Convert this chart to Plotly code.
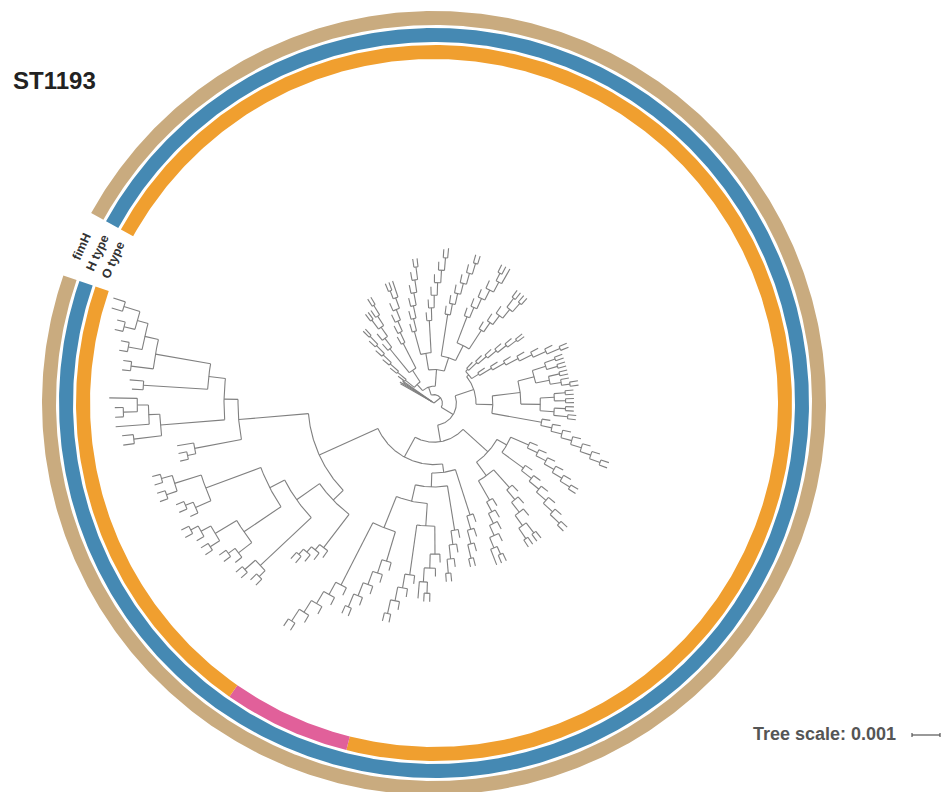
import math
import plotly.graph_objects as go

# ---------------------------------------------------------------------------
# Tree topology (Newick, branch lengths in units of 1e-4 substitutions/site).
# Leaves named "o2" carry the alternative O type; all others the main one.
# ---------------------------------------------------------------------------
CLADE_A = "((:13,:13.5):0.3,(:12.5,:13):0.3)"

UPPER_F1 = "(:3,(:3,(:3,(:3,(:3,(:3,:3):4):4):4):4):4)"
UPPER_F2 = "(:3,(:3,((:3,:3):4,(:3,(:3,:3):4):4):4):4)"
UPPER_F3 = "(:3,(:3,(:3,(:3,((:3,:3):3,:6):4):4):4):4)"
UPPER_F4 = "(:3,(:3,(:3,(:3,(:3,(:3,:3):4.5):4.5):4.5):4.5):4.5)"
UPPER_F5 = "(:3,(:3,(:3,(:3,(:3,(:3,:3.5):4.5):4.5):4.5):4.5):4.5)"
UPPER_F6 = "(:3,(:3,(:3,(:3,(:3,(:3,:3):4):4):4):4):4)"
UPPER_F7 = "(:3,(:3,(:3,(:3,((:3,:3):3,:6):4):4):4):4)"
UPPER_F8 = "(:3,(:3,(:3,((:3,:3):4,(:3,:3):4):4):4):4)"
CLADE_UPPER = (f"(({UPPER_F1}:4,({UPPER_F2}:11,{UPPER_F3}:10):5):3,"
               f"(({UPPER_F4}:8.5,{UPPER_F5}:11.5):6,({UPPER_F6}:15,"
               f"({UPPER_F7}:10,{UPPER_F8}:8):6):5):6)")

RIGHT_R1A = "(:3,(:3,(:3,(:3,(:3,(:3,:3):4):4):4):4):4)"
RIGHT_R1B = "(:3,(:3,(:3,(:3,(:3,(:3,(:3,:3):5):5):5):5):5):5)"
RIGHT_R2 = ("((((:3,:3):4,(:3,:3):4):5,((:3,:3):4,(:3,(:3,:3):3):4):5):6,"
            "(((:3,:3):4,(:3,:3):4):5,((:3,:3):4,(:3,:3):5):5):7)")
RIGHT_R3 = "(:3,(:3,(:3,(:3,(:3,(:3,(:3,:3):4):4):4):4):4):4)"
CLADE_RIGHT = f"(({RIGHT_R1A}:1,{RIGHT_R1B}:3):1,({RIGHT_R2}:10,{RIGHT_R3}:18):6)"

LOWER_L1 = "(:3,(:3,(:3,(:3,(:3,(:3,:3):4):4):4):4):4)"
LOWER_L2 = "(:3,(:3,(:3,(:3,(:3,(:3,:3):4.5):4.5):4.5):4.5):4.5)"
LOWER_L3 = "(:3,(:3,(:3,((:3,:3):4.5,(:3,:3):4.5):4.5):4.5):4.5)"
LOWER_L4 = "(:3,(:3,(:3,(:3,((:3,:3):3,:6):4):4):4):4)"
CLADE_LOWER_RIGHT = (f"(({LOWER_L1}:7,{LOWER_L2}:9.5):4,"
                     f"({LOWER_L3}:8.5,{LOWER_L4}:8):6)")

BOTTOM_B1 = "(:3,(:3,(:3,(:3,:3):5):5):5)"
BOTTOM_B2 = "(:3,(:3,(:3,(:3,:3):5):5):5)"
BOTTOM_B3 = "(:3,(:3,((:3,:3):4,:6):5):5)"
BOTTOM_B4 = "(:3,(:3,(:3,(:3,:3):5):5):5)"
BOTTOM_P1 = "(o2:3,(o2:3,(o2:3,(o2:3,(o2:3,o2:3):5):5):5):5)"
BOTTOM_P2 = "(o2:3,(o2:3,(o2:3,(o2:3,(o2:3,o2:3):5):5):5):5)"
CLADE_BOTTOM = (f"({BOTTOM_B1}:17,({BOTTOM_B2}:16,(({BOTTOM_B3}:10,"
                f"{BOTTOM_B4}:18):8,({BOTTOM_P1}:11,{BOTTOM_P2}:25):12):6):5)")

LL_GD = "(:3,(:3,(:3,(:3,:3):2.5):2.5):2.5)"
LL_GC = "((:3,:3):3,(:3,:3):5)"
LL_GB = "((:3,(:3,:3):3):6,((:3,:3):4,(:3,(:3,:3):3):4):9)"
LL_GA = "((:3,(:3,:3):3):6,((:3,:3):4,(:3,:3):4):10)"
CLADE_LOWER_LEFT = f"({LL_GD}:15,({LL_GC}:25,({LL_GB}:16,{LL_GA}:21):6):10)"

LEFT_LX = "((:3,:3):3,:6)"
LEFT_LB = "((:4,:4):10,(:12,((:3,:3):5,:10):4):4)"
LEFT_LM = "(:4,:5)"
LEFT_LT = "((:3,:3):8,((:3,:3):5,((:3,:3):4,(:4,:4.5):6):4):5)"
CLADE_LEFT = f"({LEFT_LX}:17,({LEFT_LB}:23,({LEFT_LM}:23,{LEFT_LT}:20):6):5)"

TREE_NEWICK = (f"({CLADE_A}:0.5,({CLADE_UPPER}:3,({CLADE_RIGHT}:7,"
               f"({CLADE_LOWER_RIGHT}:12,({CLADE_BOTTOM}:3,"
               f"({CLADE_LOWER_LEFT}:5,{CLADE_LEFT}:25):23):8):6):5):3);")

# Annotation rings (outer to inner) and their category colours
RING_LABELS = ["fimH", "H type", "O type"]
DEFAULT_CATEGORY = {"fimH": "fimH-main", "H type": "H-main", "O type": "O-main"}
LEAF_CATEGORY_CODES = {"o2": {"O type": "O-alt"}}
CATEGORY_COLORS = {
    "fimH-main": "#C9AB7F",
    "H-main": "#4589B3",
    "O-main": "#F09F2F",
    "O-alt": "#E1609A",
}

TITLE = "ST1193"
TREE_SCALE = 0.001
BRANCH_UNIT = 1e-4

# ---------------------------------------------------------------------------
# Geometry / style
# ---------------------------------------------------------------------------
W, H = 945, 792
CX, CY = 434.0, 403.0
PX_PER_UNIT = 2.8
START_DEG, SPAN_DEG = 151.0, 350.0
RING_RADII = [(378, 392), (361, 375), (344, 358)]
LINE_COLOR = "#808080"
FONT = "Liberation Sans, Arial, sans-serif"


def parse_newick(s):
    s = s.strip().rstrip(";")
    pos = 0

    def node():
        nonlocal pos
        n = {"children": [], "name": "", "len": 0.0}
        if s[pos] == "(":
            pos += 1
            n["children"].append(node())
            while s[pos] == ",":
                pos += 1
                n["children"].append(node())
            pos += 1  # closing ')'
        start = pos
        while pos < len(s) and s[pos] not in ":,()":
            pos += 1
        n["name"] = s[start:pos]
        if pos < len(s) and s[pos] == ":":
            pos += 1
            start = pos
            while pos < len(s) and s[pos] not in ",()":
                pos += 1
            n["len"] = float(s[start:pos])
        return n

    return node()


root = parse_newick(TREE_NEWICK)

leaves = []


def assign_depth(n, depth):
    n["r"] = depth * PX_PER_UNIT
    if not n["children"]:
        leaves.append(n)
    for c in n["children"]:
        assign_depth(c, depth + c["len"])


assign_depth(root, 0.0)
N = len(leaves)
STEP = SPAN_DEG / N
for i, lf in enumerate(leaves):
    lf["theta"] = START_DEG - (i + 0.5) * STEP


def assign_theta(n):
    if n["children"]:
        for c in n["children"]:
            assign_theta(c)
        n["theta"] = 0.5 * (n["children"][0]["theta"] + n["children"][-1]["theta"])


assign_theta(root)


def pt(r, deg):
    a = math.radians(deg)
    return CX + r * math.cos(a), CY - r * math.sin(a)


xs, ys = [], []


def draw(n):
    for c in n["children"]:
        x0, y0 = pt(n["r"], c["theta"])
        x1, y1 = pt(c["r"], c["theta"])
        xs.extend([x0, x1, None])
        ys.extend([y0, y1, None])
    if n["children"]:
        a0 = n["children"][0]["theta"]
        a1 = n["children"][-1]["theta"]
        k = max(2, int(abs(a1 - a0) / 0.5) + 2)
        for j in range(k):
            x, y = pt(n["r"], a0 + (a1 - a0) * j / (k - 1))
            xs.append(x)
            ys.append(y)
        xs.append(None)
        ys.append(None)
        for c in n["children"]:
            draw(c)


draw(root)

fig = go.Figure()


def sector(r0, r1, a0, a1, color):
    k = max(3, int(abs(a1 - a0) / 0.5) + 2)
    px, py = [], []
    for j in range(k):
        x, y = pt(r1, a0 + (a1 - a0) * j / (k - 1))
        px.append(x)
        py.append(y)
    for j in range(k):
        x, y = pt(r0, a1 + (a0 - a1) * j / (k - 1))
        px.append(x)
        py.append(y)
    px.append(px[0])
    py.append(py[0])
    fig.add_trace(go.Scatter(x=px, y=py, mode="lines", fill="toself",
                             fillcolor=color, line=dict(width=0, color=color),
                             hoverinfo="skip", showlegend=False))


for label, (r0, r1) in zip(RING_LABELS, RING_RADII):
    cats = []
    for lf in leaves:
        code = LEAF_CATEGORY_CODES.get(lf["name"], {})
        cats.append(code.get(label, DEFAULT_CATEGORY[label]))
    i = 0
    while i < N:
        j = i
        while j + 1 < N and cats[j + 1] == cats[i]:
            j += 1
        a0 = START_DEG - i * STEP
        a1 = START_DEG - (j + 1) * STEP
        sector(r0, r1, a0, a1, CATEGORY_COLORS[cats[i]])
        i = j + 1

fig.add_trace(go.Scatter(x=xs, y=ys, mode="lines",
                         line=dict(color=LINE_COLOR, width=1.1),
                         hoverinfo="skip", showlegend=False))

# ring labels inside the gap
gap_mid = START_DEG + (360 - SPAN_DEG) / 2
for label, (r0, r1) in zip(RING_LABELS, RING_RADII):
    x, y = pt((r0 + r1) / 2, gap_mid)
    fig.add_annotation(x=x, y=y, text=f"<b>{label}</b>", showarrow=False,
                       textangle=-(gap_mid - 90), xanchor="center", yanchor="middle",
                       font=dict(size=12.5, color="#333333", family=FONT))

fig.add_annotation(x=11, y=80, text=f"<b>{TITLE}</b>", showarrow=False,
                   xanchor="left", yanchor="middle",
                   font=dict(size=24, color="#222222", family=FONT))

# tree scale
bar_len = TREE_SCALE / BRANCH_UNIT * PX_PER_UNIT
bar_x0, bar_y = 912, 735
fig.add_annotation(x=bar_x0 - 14, y=bar_y - 1, text=f"<b>Tree scale: {TREE_SCALE}</b>",
                   showarrow=False, xanchor="right", yanchor="middle",
                   font=dict(size=18, color="#555555", family=FONT))
fig.add_trace(go.Scatter(
    x=[bar_x0, bar_x0 + bar_len, None, bar_x0, bar_x0, None,
       bar_x0 + bar_len, bar_x0 + bar_len],
    y=[bar_y, bar_y, None, bar_y - 2, bar_y + 2, None, bar_y - 2, bar_y + 2],
    mode="lines", line=dict(color="#555555", width=1.2),
    hoverinfo="skip", showlegend=False))

fig.update_layout(
    width=W, height=H, margin=dict(l=0, r=0, t=0, b=0),
    paper_bgcolor="white", plot_bgcolor="white",
    xaxis=dict(range=[0, W], visible=False, fixedrange=True),
    yaxis=dict(range=[H, 0], visible=False, fixedrange=True),
)

fig.write_html("out.html")
